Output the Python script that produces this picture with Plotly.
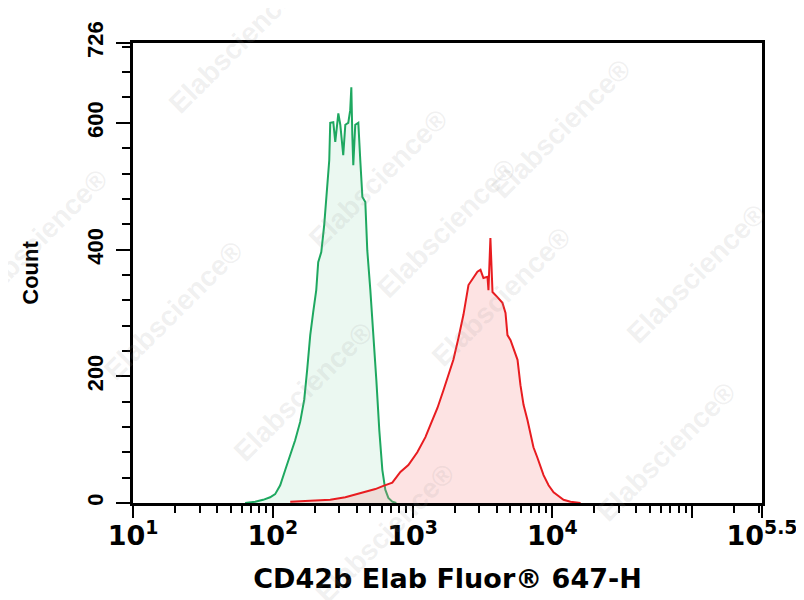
import plotly.graph_objects as go

# ---- data ----
green_log = [1.802, 1.874, 1.931, 1.981, 2.017, 2.053, 2.089, 2.125, 2.160, 2.196,
             2.225, 2.246, 2.268, 2.289, 2.311, 2.325, 2.347, 2.368, 2.390, 2.404,
             2.411, 2.433, 2.447, 2.469, 2.483, 2.504, 2.519, 2.540, 2.554, 2.562,
             2.569, 2.576, 2.590, 2.612, 2.626, 2.641, 2.662, 2.676, 2.698, 2.719,
             2.741, 2.762, 2.784, 2.805, 2.827, 2.855, 2.884]
green_count = [0, 2, 5, 9, 14, 28, 52, 76, 99, 128,
               163, 210, 265, 301, 336, 380, 396, 439, 494, 541,
               600, 601, 570, 615, 597, 549, 597, 600, 620, 656,
               581, 533, 597, 600, 541, 483, 475, 399, 336, 273,
               194, 115, 52, 21, 8, 2, 0]

red_log = [2.125, 2.268, 2.411, 2.519, 2.648, 2.734, 2.791, 2.855, 2.913, 2.970,
           3.034, 3.092, 3.127, 3.178, 3.221, 3.256, 3.292, 3.328, 3.364, 3.400,
           3.436, 3.464, 3.486, 3.507, 3.536, 3.543, 3.557, 3.572, 3.607, 3.643,
           3.665, 3.679, 3.701, 3.729, 3.751, 3.772, 3.794, 3.822, 3.844, 3.865,
           3.894, 3.915, 3.937, 3.973, 4.009, 4.044, 4.080, 4.130, 4.202]
red_count = [2, 3, 5, 9, 17, 22, 27, 32, 49, 60,
             80, 104, 123, 150, 178, 202, 226, 260, 297, 344,
             357, 365, 368, 355, 357, 336, 418, 333, 325, 316,
             300, 265, 257, 241, 226, 186, 155, 131, 107, 88,
             71, 57, 44, 28, 17, 11, 5, 2, 0]

x_tick_vals = [10, 100, 1000, 10000, 100000, 10 ** 5.5]
x_tick_text = ["10<sup>1</sup>", "10<sup>2</sup>", "10<sup>3</sup>",
               "10<sup>4</sup>", "", "10<sup>5.5</sup>"]
y_tick_vals = [0, 200, 400, 600, 726]
y_tick_text = ["0", "200", "400", "600", "726"]

x_title = "CD42b Elab Fluor® 647-H"
y_title = "Count"
watermark = "Elabscience®"
# approximate centres of the watermark stamps (page pixels)
watermark_pos = [(-40, 160), (160, -35), (300, 100), (446, 228), (580, 375),
                 (745, 530), (95, 310), (225, 470), (640, 50), (775, 195),
                 (385, 612)]

# the page body adds an 8px offset, so the figure is drawn 8px smaller
OFF = 8
W, H = 804 - OFF, 600 - OFF
ML, MR, MT, MB = 133 - OFF, 42, 43 - OFF, 97

x_minor = [m * 10 ** k for k in range(1, 5) for m in range(2, 10)] + [2e5, 3e5]
y_minor = [v for v in range(40, 726, 40) if v not in (200, 400, 600)]

fig = go.Figure()
fig.add_trace(go.Scatter(
    x=[10 ** v for v in green_log], y=green_count, mode="lines",
    line=dict(color="rgb(30,168,96)", width=2),
    fill="tozeroy", fillcolor="rgba(120,205,160,0.15)", showlegend=False))
fig.add_trace(go.Scatter(
    x=[10 ** v for v in red_log], y=red_count, mode="lines",
    line=dict(color="rgb(232,28,32)", width=2),
    fill="tozeroy", fillcolor="rgba(245,140,140,0.24)", showlegend=False))

axis_common = dict(showline=True, linecolor="black", linewidth=3, mirror=True,
                   ticks="outside", tickcolor="black", tickwidth=2,
                   showgrid=False, zeroline=False, automargin=False)

fig.update_xaxes(type="log", range=[1, 5.5], tickmode="array",
                 tickvals=x_tick_vals, ticktext=x_tick_text, ticklen=12,
                 tickfont=dict(family="DejaVu Sans", size=27, color="black", weight="bold"),
                 ticklabelstandoff=-5,
                 minor=dict(tickmode="array", tickvals=x_minor, ticks="outside",
                            ticklen=7, tickwidth=2, tickcolor="black"),
                 title=dict(text=x_title, standoff=19,
                            font=dict(family="DejaVu Sans", size=27, color="black", weight="bold")),
                 **axis_common)
fig.update_yaxes(range=[0, 726], tickmode="array", tickvals=y_tick_vals,
                 ticktext=y_tick_text, ticklen=14, tickangle=-90,
                 tickfont=dict(family="Liberation Sans", size=22, color="black", weight="bold"),
                 ticklabelstandoff=4,
                 minor=dict(tickmode="array", tickvals=y_minor, ticks="outside",
                            ticklen=8, tickwidth=2, tickcolor="black"),
                 title=dict(text=y_title, standoff=39,
                            font=dict(family="Liberation Sans", size=22, color="black", weight="bold")),
                 **axis_common)

PW, PH = W - ML - MR, H - MT - MB
for (px, py) in watermark_pos:
    fig.add_annotation(x=(px - OFF - ML) / PW, y=1 - (py - OFF - MT) / PH,
                       xref="paper", yref="paper", text=watermark, showarrow=False,
                       textangle=-45,
                       font=dict(family="Liberation Sans", size=28, weight="bold",
                                 color="rgba(150,150,150,0.14)"))

fig.update_layout(width=W, height=H,
                  margin=dict(l=ML, r=MR, t=MT, b=MB, autoexpand=False),
                  plot_bgcolor="white", paper_bgcolor="white")

fig.write_html("out.html")
